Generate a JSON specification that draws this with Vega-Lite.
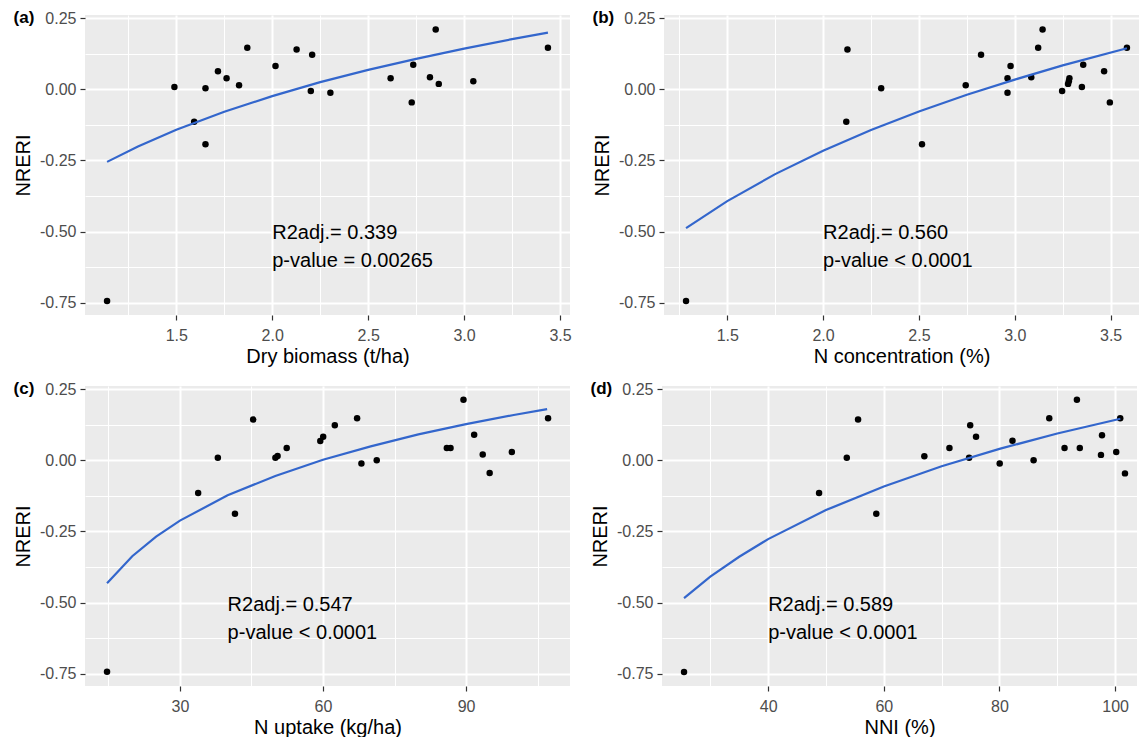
{
  "$schema": "https://vega.github.io/schema/vega-lite/v6.json",
  "padding": {"left": 13, "top": 9, "right": 0, "bottom": 0},
  "background": "white",
  "config": {
    "font": "Liberation Sans",
    "view": {"fill": "#EBEBEB", "stroke": null},
    "axis": {
      "labelFont": "Liberation Sans", "titleFont": "Liberation Sans",
      "labelFontSize": 16, "titleFontSize": 20, "titleFontWeight": "normal",
      "labelColor": "#4D4D4D", "titleColor": "#000000",
      "tickColor": "#333333", "tickSize": 5, "tickWidth": 1.2,
      "domain": false, "grid": true, "gridColor": "#FFFFFF",
      "labelPadding": 4, "labelOverlap": false, "labelFlush": false
    },
    "axisX": {"titlePadding": 3, "labelPadding": 7},
    "axisY": {"titlePadding": 6},
    "title": {"font": "Liberation Sans", "fontSize": 17, "fontWeight": "bold", "anchor": "start", "frame": "bounds", "color": "#000000", "offset": -17},
    "text": {"font": "Liberation Sans"}
  },
  "datasets": {
    "pa": [
      {"x": 1.139, "y": -0.744}, {"x": 1.49, "y": 0.008}, {"x": 1.593, "y": -0.114}, {"x": 1.652, "y": 0.004},
      {"x": 1.652, "y": -0.193}, {"x": 1.717, "y": 0.063}, {"x": 1.762, "y": 0.039}, {"x": 1.827, "y": 0.014},
      {"x": 1.87, "y": 0.146}, {"x": 2.017, "y": 0.082}, {"x": 2.127, "y": 0.14}, {"x": 2.201, "y": -0.006},
      {"x": 2.208, "y": 0.121}, {"x": 2.303, "y": -0.012}, {"x": 2.617, "y": 0.039}, {"x": 2.727, "y": -0.046},
      {"x": 2.735, "y": 0.086}, {"x": 2.822, "y": 0.042}, {"x": 2.852, "y": 0.21}, {"x": 2.868, "y": 0.019},
      {"x": 3.048, "y": 0.028}, {"x": 3.437, "y": 0.146}
    ],
    "pb": [
      {"x": 1.285, "y": -0.744}, {"x": 2.121, "y": -0.114}, {"x": 2.127, "y": 0.14}, {"x": 2.303, "y": 0.004},
      {"x": 2.516, "y": -0.193}, {"x": 2.744, "y": 0.014}, {"x": 2.824, "y": 0.121}, {"x": 2.962, "y": 0.039},
      {"x": 2.962, "y": -0.012}, {"x": 2.978, "y": 0.082}, {"x": 3.086, "y": 0.042}, {"x": 3.122, "y": 0.146},
      {"x": 3.145, "y": 0.21}, {"x": 3.247, "y": -0.006}, {"x": 3.278, "y": 0.019}, {"x": 3.282, "y": 0.028},
      {"x": 3.285, "y": 0.039}, {"x": 3.35, "y": 0.008}, {"x": 3.357, "y": 0.086}, {"x": 3.466, "y": 0.063},
      {"x": 3.496, "y": -0.046}, {"x": 3.585, "y": 0.146}
    ],
    "pc": [
      {"x": 14.71, "y": -0.743}, {"x": 33.82, "y": -0.115}, {"x": 37.95, "y": 0.009}, {"x": 41.54, "y": -0.188},
      {"x": 45.36, "y": 0.143}, {"x": 50.02, "y": 0.009}, {"x": 50.48, "y": 0.015}, {"x": 52.39, "y": 0.043},
      {"x": 59.43, "y": 0.068}, {"x": 60.04, "y": 0.083}, {"x": 62.48, "y": 0.123}, {"x": 67.15, "y": 0.148},
      {"x": 68.06, "y": -0.011}, {"x": 71.27, "y": 0.0}, {"x": 85.97, "y": 0.043}, {"x": 86.75, "y": 0.043},
      {"x": 89.46, "y": 0.213}, {"x": 91.7, "y": 0.09}, {"x": 93.5, "y": 0.02}, {"x": 94.95, "y": -0.045},
      {"x": 99.6, "y": 0.029}, {"x": 107.2, "y": 0.148}
    ],
    "pd": [
      {"x": 25.46, "y": -0.744}, {"x": 48.81, "y": -0.115}, {"x": 53.6, "y": 0.009}, {"x": 55.55, "y": 0.143},
      {"x": 58.7, "y": -0.188}, {"x": 67.01, "y": 0.014}, {"x": 71.35, "y": 0.043}, {"x": 74.75, "y": 0.009},
      {"x": 74.94, "y": 0.123}, {"x": 75.95, "y": 0.083}, {"x": 80.04, "y": -0.011}, {"x": 82.25, "y": 0.069},
      {"x": 85.9, "y": 0.0}, {"x": 88.61, "y": 0.148}, {"x": 91.25, "y": 0.043}, {"x": 93.39, "y": 0.213},
      {"x": 93.89, "y": 0.043}, {"x": 97.55, "y": 0.019}, {"x": 97.73, "y": 0.088}, {"x": 100.19, "y": 0.029},
      {"x": 100.88, "y": 0.148}, {"x": 101.7, "y": -0.046}
    ],
    "fa": [
      {"x": 1.139, "y": -0.255}, {"x": 1.3, "y": -0.201}, {"x": 1.5, "y": -0.142}, {"x": 1.75, "y": -0.079},
      {"x": 2.0, "y": -0.024}, {"x": 2.25, "y": 0.025}, {"x": 2.5, "y": 0.068}, {"x": 2.75, "y": 0.107},
      {"x": 3.0, "y": 0.143}, {"x": 3.25, "y": 0.176}, {"x": 3.437, "y": 0.199}
    ],
    "fb": [
      {"x": 1.285, "y": -0.488}, {"x": 1.5, "y": -0.393}, {"x": 1.75, "y": -0.298}, {"x": 2.0, "y": -0.216},
      {"x": 2.25, "y": -0.143}, {"x": 2.5, "y": -0.078}, {"x": 2.75, "y": -0.019}, {"x": 3.0, "y": 0.034},
      {"x": 3.25, "y": 0.084}, {"x": 3.585, "y": 0.144}
    ],
    "fc": [
      {"x": 14.71, "y": -0.432}, {"x": 20, "y": -0.337}, {"x": 25, "y": -0.268}, {"x": 30, "y": -0.212},
      {"x": 40, "y": -0.123}, {"x": 50, "y": -0.055}, {"x": 60, "y": 0.002}, {"x": 70, "y": 0.049},
      {"x": 80, "y": 0.091}, {"x": 90, "y": 0.127}, {"x": 100, "y": 0.159}, {"x": 107.0, "y": 0.18}
    ],
    "fd": [
      {"x": 25.46, "y": -0.484}, {"x": 30, "y": -0.409}, {"x": 35, "y": -0.339}, {"x": 40, "y": -0.277},
      {"x": 50, "y": -0.175}, {"x": 60, "y": -0.092}, {"x": 70, "y": -0.021}, {"x": 80, "y": 0.04},
      {"x": 90, "y": 0.094}, {"x": 100.9, "y": 0.146}
    ],
    "ann": [
      {"p": "a", "x": 2.0, "y": -0.505, "label": "R2adj.= 0.339"},
      {"p": "a", "x": 2.0, "y": -0.605, "label": "p-value = 0.00265"},
      {"p": "b", "x": 2.0, "y": -0.505, "label": "R2adj.= 0.560"},
      {"p": "b", "x": 2.0, "y": -0.605, "label": "p-value < 0.0001"},
      {"p": "c", "x": 40, "y": -0.508, "label": "R2adj.= 0.547"},
      {"p": "c", "x": 40, "y": -0.608, "label": "p-value < 0.0001"},
      {"p": "d", "x": 40, "y": -0.508, "label": "R2adj.= 0.589"},
      {"p": "d", "x": 40, "y": -0.608, "label": "p-value < 0.0001"}
    ]
  },
  "spacing": 14,
  "vconcat": [
    {
      "spacing": 20,
      "hconcat": [
        {
          "width": 485, "height": 300,
          "title": {"text": "(a)"},
          "encoding": {
            "x": {"field": "x", "type": "quantitative",
              "scale": {"domain": [1.024, 3.552], "nice": false, "zero": false},
              "axis": {"title": "Dry biomass (t/ha)", "values": [1.25, 1.5, 1.75, 2, 2.25, 2.5, 2.75, 3, 3.25, 3.5], "format": ".1f",
                "labelExpr": "datum.value * 2 % 1 === 0 ? replace(datum.label, '−', '-') : ''",
                "gridWidth": {"condition": {"test": "datum.value * 2 % 1 === 0", "value": 2}, "value": 1},
                "tickOpacity": {"condition": {"test": "datum.value * 2 % 1 === 0", "value": 1}, "value": 0}}},
            "y": {"field": "y", "type": "quantitative",
              "scale": {"domain": [-0.793, 0.261], "nice": false, "zero": false},
              "axis": {"title": "NRERI", "values": [-0.75, -0.625, -0.5, -0.375, -0.25, -0.125, 0, 0.125, 0.25], "format": ".2f",
                "labelExpr": "datum.value * 4 % 1 === 0 ? replace(datum.label, '−', '-') : ''",
                "gridWidth": {"condition": {"test": "datum.value * 4 % 1 === 0", "value": 2}, "value": 1},
                "tickOpacity": {"condition": {"test": "datum.value * 4 % 1 === 0", "value": 1}, "value": 0}}}
          },
          "layer": [
            {"data": {"name": "pa"}, "mark": {"type": "circle", "size": 42, "color": "#000000", "opacity": 1}},
            {"data": {"name": "fa"}, "mark": {"type": "line", "color": "#3366CC", "strokeWidth": 2.2}},
            {"data": {"name": "ann"}, "transform": [{"filter": "datum.p === 'a'"}],
              "mark": {"type": "text", "align": "left", "baseline": "middle", "fontSize": 20, "color": "#000000"},
              "encoding": {"text": {"field": "label"}}}
          ]
        },
        {
          "width": 475, "height": 300,
          "title": {"text": "(b)"},
          "encoding": {
            "x": {"field": "x", "type": "quantitative",
              "scale": {"domain": [1.17, 3.648], "nice": false, "zero": false},
              "axis": {"title": "N concentration (%)", "values": [1.25, 1.5, 1.75, 2, 2.25, 2.5, 2.75, 3, 3.25, 3.5], "format": ".1f",
                "labelExpr": "datum.value * 2 % 1 === 0 ? replace(datum.label, '−', '-') : ''",
                "gridWidth": {"condition": {"test": "datum.value * 2 % 1 === 0", "value": 2}, "value": 1},
                "tickOpacity": {"condition": {"test": "datum.value * 2 % 1 === 0", "value": 1}, "value": 0}}},
            "y": {"field": "y", "type": "quantitative",
              "scale": {"domain": [-0.793, 0.261], "nice": false, "zero": false},
              "axis": {"title": "NRERI", "values": [-0.75, -0.625, -0.5, -0.375, -0.25, -0.125, 0, 0.125, 0.25], "format": ".2f",
                "labelExpr": "datum.value * 4 % 1 === 0 ? replace(datum.label, '−', '-') : ''",
                "gridWidth": {"condition": {"test": "datum.value * 4 % 1 === 0", "value": 2}, "value": 1},
                "tickOpacity": {"condition": {"test": "datum.value * 4 % 1 === 0", "value": 1}, "value": 0}}}
          },
          "layer": [
            {"data": {"name": "pb"}, "mark": {"type": "circle", "size": 42, "color": "#000000", "opacity": 1}},
            {"data": {"name": "fb"}, "mark": {"type": "line", "color": "#3366CC", "strokeWidth": 2.2}},
            {"data": {"name": "ann"}, "transform": [{"filter": "datum.p === 'b'"}],
              "mark": {"type": "text", "align": "left", "baseline": "middle", "fontSize": 20, "color": "#000000"},
              "encoding": {"text": {"field": "label"}}}
          ]
        }
      ]
    },
    {
      "spacing": 20,
      "hconcat": [
        {
          "width": 485, "height": 300,
          "title": {"text": "(c)"},
          "encoding": {
            "x": {"field": "x", "type": "quantitative",
              "scale": {"domain": [10.09, 111.8], "nice": false, "zero": false},
              "axis": {"title": "N uptake (kg/ha)", "values": [15, 30, 45, 60, 75, 90, 105], "format": "d",
                "labelExpr": "datum.value % 30 === 0 ? datum.label : ''",
                "gridWidth": {"condition": {"test": "datum.value % 30 === 0", "value": 2}, "value": 1},
                "tickOpacity": {"condition": {"test": "datum.value % 30 === 0", "value": 1}, "value": 0}}},
            "y": {"field": "y", "type": "quantitative",
              "scale": {"domain": [-0.793, 0.261], "nice": false, "zero": false},
              "axis": {"title": "NRERI", "values": [-0.75, -0.625, -0.5, -0.375, -0.25, -0.125, 0, 0.125, 0.25], "format": ".2f",
                "labelExpr": "datum.value * 4 % 1 === 0 ? replace(datum.label, '−', '-') : ''",
                "gridWidth": {"condition": {"test": "datum.value * 4 % 1 === 0", "value": 2}, "value": 1},
                "tickOpacity": {"condition": {"test": "datum.value * 4 % 1 === 0", "value": 1}, "value": 0}}}
          },
          "layer": [
            {"data": {"name": "pc"}, "mark": {"type": "circle", "size": 42, "color": "#000000", "opacity": 1}},
            {"data": {"name": "fc"}, "mark": {"type": "line", "color": "#3366CC", "strokeWidth": 2.2}},
            {"data": {"name": "ann"}, "transform": [{"filter": "datum.p === 'c'"}],
              "mark": {"type": "text", "align": "left", "baseline": "middle", "fontSize": 20, "color": "#000000"},
              "encoding": {"text": {"field": "label"}}}
          ]
        },
        {
          "width": 475, "height": 300,
          "title": {"text": "(d)"},
          "encoding": {
            "x": {"field": "x", "type": "quantitative",
              "scale": {"domain": [21.65, 103.78], "nice": false, "zero": false},
              "axis": {"title": "NNI (%)", "values": [30, 40, 50, 60, 70, 80, 90, 100], "format": "d",
                "labelExpr": "datum.value % 20 === 0 ? datum.label : ''",
                "gridWidth": {"condition": {"test": "datum.value % 20 === 0", "value": 2}, "value": 1},
                "tickOpacity": {"condition": {"test": "datum.value % 20 === 0", "value": 1}, "value": 0}}},
            "y": {"field": "y", "type": "quantitative",
              "scale": {"domain": [-0.793, 0.261], "nice": false, "zero": false},
              "axis": {"title": "NRERI", "values": [-0.75, -0.625, -0.5, -0.375, -0.25, -0.125, 0, 0.125, 0.25], "format": ".2f",
                "labelExpr": "datum.value * 4 % 1 === 0 ? replace(datum.label, '−', '-') : ''",
                "gridWidth": {"condition": {"test": "datum.value * 4 % 1 === 0", "value": 2}, "value": 1},
                "tickOpacity": {"condition": {"test": "datum.value * 4 % 1 === 0", "value": 1}, "value": 0}}}
          },
          "layer": [
            {"data": {"name": "pd"}, "mark": {"type": "circle", "size": 42, "color": "#000000", "opacity": 1}},
            {"data": {"name": "fd"}, "mark": {"type": "line", "color": "#3366CC", "strokeWidth": 2.2}},
            {"data": {"name": "ann"}, "transform": [{"filter": "datum.p === 'd'"}],
              "mark": {"type": "text", "align": "left", "baseline": "middle", "fontSize": 20, "color": "#000000"},
              "encoding": {"text": {"field": "label"}}}
          ]
        }
      ]
    }
  ]
}
